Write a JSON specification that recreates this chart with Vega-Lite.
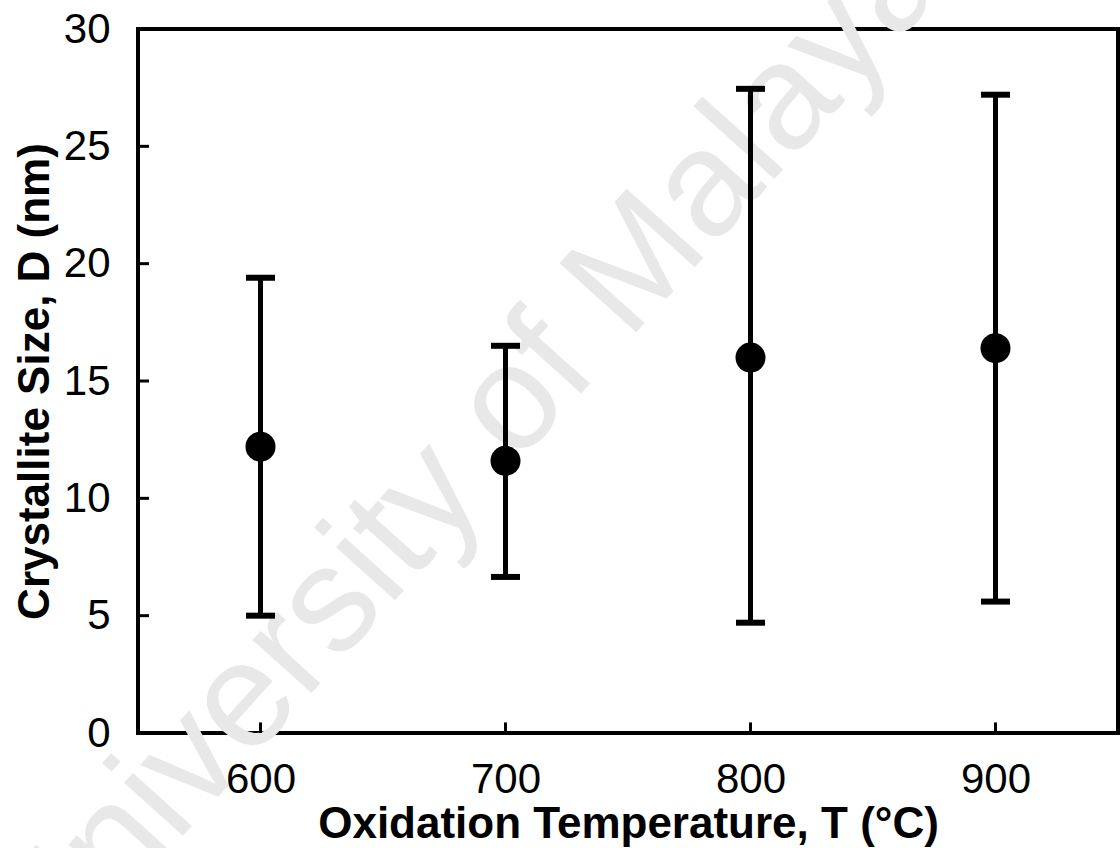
{
  "$schema": "https://vega.github.io/schema/vega-lite/v6.json",
  "width": 980,
  "height": 704,
  "autosize": {"type": "none"},
  "padding": {"left": 138, "top": 29, "right": 2, "bottom": 115},
  "background": "white",
  "config": {
    "view": {"stroke": "black", "strokeWidth": 4},
    "font": "Liberation Sans",
    "axis": {"grid": false, "domain": false, "ticks": false, "labelFont": "Liberation Sans", "titleFont": "Liberation Sans", "labelColor": "black", "titleColor": "black"}
  },
  "datasets": {
    "pts": [
      {"T": 600, "D": 12.2, "lo": 5.0, "hi": 19.4},
      {"T": 700, "D": 11.6, "lo": 6.65, "hi": 16.5},
      {"T": 800, "D": 16.0, "lo": 4.7, "hi": 27.45},
      {"T": 900, "D": 16.4, "lo": 5.6, "hi": 27.2}
    ],
    "yt": [{"v": 5}, {"v": 10}, {"v": 15}, {"v": 20}, {"v": 25}],
    "xt": [{"v": 600}, {"v": 700}, {"v": 800}, {"v": 900}]
  },
  "layer": [
    {
      "data": {"values": [{"T": 684, "D": 11.9, "txt": "University of Malaya"}]},
      "mark": {"type": "text", "fontSize": 150, "angle": -48, "color": "#e8e8e8", "font": "Liberation Sans", "align": "center", "baseline": "middle", "clip": false},
      "encoding": {
        "x": {"field": "T", "type": "quantitative"},
        "y": {"field": "D", "type": "quantitative"},
        "text": {"field": "txt"}
      }
    },
    {
      "data": {"name": "yt"},
      "mark": {"type": "rule", "strokeWidth": 3, "color": "black"},
      "encoding": {
        "x": {"datum": 550, "type": "quantitative"},
        "x2": {"datum": 554.5},
        "y": {"field": "v", "type": "quantitative"}
      }
    },
    {
      "data": {"name": "xt"},
      "mark": {"type": "rule", "strokeWidth": 3, "color": "black"},
      "encoding": {
        "x": {"field": "v", "type": "quantitative"},
        "y": {"datum": 0, "type": "quantitative"},
        "y2": {"datum": 0.45}
      }
    },
    {
      "data": {"name": "pts"},
      "mark": {"type": "rule", "strokeWidth": 5, "color": "black"},
      "encoding": {
        "x": {"field": "T", "type": "quantitative", "scale": {"domain": [550, 950], "nice": false, "zero": false},
          "axis": {"values": [600, 700, 800, 900], "title": "Oxidation Temperature, T (°C)", "labelFontSize": 42, "titleFontSize": 44, "titleFontWeight": "bold", "labelPadding": 26, "titlePadding": 2}},
        "y": {"field": "lo", "type": "quantitative", "scale": {"domain": [0, 30], "nice": false},
          "axis": {"values": [0, 5, 10, 15, 20, 25, 30], "title": "Crystallite Size, D (nm)", "labelFontSize": 42, "titleFontSize": 44, "titleFontWeight": "bold", "labelPadding": 28, "titlePadding": 6}},
        "y2": {"field": "hi"}
      }
    },
    {
      "data": {"name": "pts"},
      "mark": {"type": "tick", "orient": "horizontal", "size": 29, "thickness": 6, "color": "black", "opacity": 1},
      "encoding": {
        "x": {"field": "T", "type": "quantitative"},
        "y": {"field": "lo", "type": "quantitative"}
      }
    },
    {
      "data": {"name": "pts"},
      "mark": {"type": "tick", "orient": "horizontal", "size": 29, "thickness": 6, "color": "black", "opacity": 1},
      "encoding": {
        "x": {"field": "T", "type": "quantitative"},
        "y": {"field": "hi", "type": "quantitative"}
      }
    },
    {
      "data": {"name": "pts"},
      "mark": {"type": "point", "filled": true, "shape": "circle", "size": 900, "color": "black", "opacity": 1},
      "encoding": {
        "x": {"field": "T", "type": "quantitative"},
        "y": {"field": "D", "type": "quantitative"}
      }
    }
  ]
}
